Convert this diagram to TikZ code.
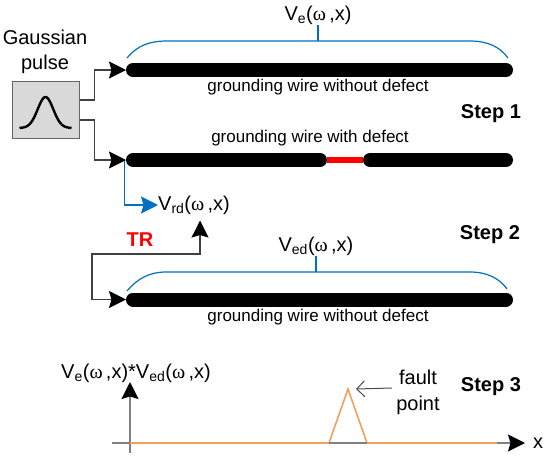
\documentclass[tikz,border=0pt]{standalone}
\usepackage{fontspec}
\setmainfont{Liberation Sans}
\newfontfamily\omegafont{Liberation Serif}
\usetikzlibrary{arrows.meta}

\definecolor{bracecol}{RGB}{0,112,192}
\definecolor{plotcol}{RGB}{244,160,90}
\definecolor{boxcol}{RGB}{217,217,217}
\newcommand{\om}{{\omegafont ω}}

\tikzset{
  bigtip/.tip={Stealth[length=17pt, width=17pt, inset=2.5pt]},
  wire/.style={line width=14pt, line cap=round, shorten <=7pt, shorten >=7pt},
  defect/.style={red, line width=6pt},
  tip/.style={-{bigtip[color=black]}},
  feed/.style={tip, draw=black!75, line width=1.2pt},
  echo/.style={draw=bracecol, line width=1.2pt, -{bigtip}},
  brace/.style={draw=bracecol, line width=1.2pt},
  lbl/.style={inner sep=0pt, font=\fontsize{17}{20}\selectfont},
  vlbl/.style={inner sep=0pt, font=\fontsize{20}{24}\selectfont},
  steplbl/.style={inner sep=0pt, font=\fontsize{20}{24}\selectfont\bfseries},
  pulsebox/.style={draw=black!60, fill=boxcol, line width=1pt, minimum width=67pt, minimum height=57pt}
}

\begin{document}
\begin{tikzpicture}[x=1pt, y=-1pt]
    \useasboundingbox (0,0) rectangle (550,459);

    % ---------- generatore ----------
    \node[vlbl, align=center] (gtitle) at (45,52) {Gaussian\\[1pt]pulse};
    \node[pulsebox] (gen) at (45.5,109.5) {};
    \begin{scope}[shift={(gen.center)}]
        \draw[line width=2.4pt] plot[domain=-26:26, samples=60] ({\x},{18.5-31*exp(-(\x/11)^2)});
    \end{scope}

    % ---------- step 1 ----------
    \coordinate (w1l) at (126,70);
    \coordinate (w1r) at (513,70);
    \coordinate (w2l) at (126,160);
    \coordinate (d1) at (327,160);
    \coordinate (d2) at (363,160);
    \coordinate (w2r) at (513,160);

    \draw[brace] (127,58) .. controls (138,45) and (150,41) .. (167,41) -- (470,41)
        .. controls (488,41) and (500,47) .. (508,58);
    \node[vlbl] (ve) at (318,15) {V\textsubscript{e}(\om\,,x)};
    \draw[brace] (318,41) -- (ve.south);

    \node[vlbl, anchor=west] (vrd) at (158,205) {V\textsubscript{rd}(\om\,,x)};
    \draw[echo] ([xshift=-1.5pt]w2l) |- (vrd.west);

    \draw[wire] (w1l) -- (w1r);
    \node[lbl] (lab1) at (318,87) {grounding wire without defect};

    \draw[defect] (d1) -- (d2);
    \draw[wire] (w2l) -- (d1);
    \draw[wire] (d2) -- (w2r);
    \node[lbl] (lab2) at (310,138) {grounding wire with defect};

    \draw[feed] ([yshift=9.5pt]gen.east) -- ++(15,0) |- (w1l);
    \draw[feed] ([yshift=-10.5pt]gen.east) -- ++(15,0) |- (w2l);

    \node[steplbl] (step1) at (491,114) {Step 1};

    % ---------- step 2 ----------
    \coordinate (w3l) at (126,299.5);
    \coordinate (w3r) at (513,299.5);
    \coordinate (trbend) at (92,254);

    \draw[brace] (127,291) .. controls (138,278) and (150,272) .. (166,272) -- (470,272)
        .. controls (488,272) and (500,279) .. (507,289);
    \node[vlbl] (ved) at (316,246) {V\textsubscript{ed}(\om\,,x)};
    \draw[brace] (316,272) -- (ved.south);

    \draw[wire] (w3l) -- (w3r);
    \node[lbl] (lab3) at (318,317) {grounding wire without defect};

    \draw[draw=black!75, line width=1.2pt, {bigtip[color=black]}-{bigtip[color=black]}]
        ([xshift=6pt, yshift=-6pt]vrd.south) |- (trbend) |- (w3l);
    \node[steplbl, text=red] (tr) at (140,240) {TR};
    \node[steplbl] (step2) at (490,235) {Step 2};

    % ---------- step 3 ----------
    \coordinate (orig) at (130,443);
    \coordinate (xend) at (525,443);
    \coordinate (yend) at (130,382);
    \coordinate (b1) at (329,443);
    \coordinate (b2) at (367,443);
    \coordinate (apex) at (348,389);

    \draw[gray, line width=1.5pt, tip] (112,443) -- (xend);
    \draw[gray, line width=1.5pt, tip] (130,453) -- (yend);
    \draw[plotcol, line width=1.6pt] (orig) -- (b1) -- (apex) -- (b2) -- (497,443);
    \draw[gray, line width=1.6pt] (b1) -- (b2);

    \node[vlbl] (xlab) at (538,443) {x};
    \node[vlbl] (ylab) at (136,373) {V\textsubscript{e}(\om\,,x)*V\textsubscript{ed}(\om\,,x)};
    \node[vlbl, align=center] (fault) at (418,392) {fault\\[2pt]point};
    \draw[black!70, line width=1pt, -{Straight Barb[length=8pt, width=16pt]}]
        ([xshift=-4pt, yshift=4pt]fault.west) -- ([xshift=8pt]apex);
    \node[steplbl] (step3) at (491,387) {Step 3};
\end{tikzpicture}
\end{document}
